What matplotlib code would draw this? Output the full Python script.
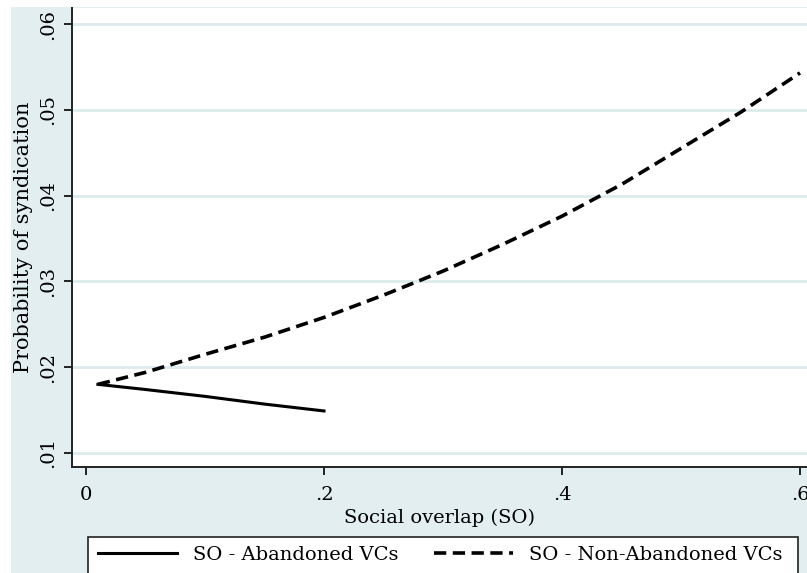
import matplotlib
matplotlib.use("Agg")
import matplotlib.pyplot as plt
from matplotlib.patches import Rectangle
from matplotlib.lines import Line2D

# values
so_abandoned = [0.01, 0.05, 0.10, 0.15, 0.20]
p_abandoned = [0.0180, 0.0174, 0.0166, 0.0157, 0.0149]

so_non_abandoned = [0.01, 0.05, 0.10, 0.15, 0.20, 0.25, 0.30, 0.35,
                    0.40, 0.45, 0.50, 0.55, 0.60]
p_non_abandoned = [0.0180, 0.0194, 0.0215, 0.0235, 0.0258, 0.0284, 0.0312,
                   0.0343, 0.0376, 0.0413, 0.0455, 0.0497, 0.0543]

x_ticks = [0, 0.2, 0.4, 0.6]
x_tick_labels = ["0", ".2", ".4", ".6"]
y_ticks = [0.01, 0.02, 0.03, 0.04, 0.05, 0.06]
y_tick_labels = [".01", ".02", ".03", ".04", ".05", ".06"]

BG = "#e2eef0"
GRID = "#dcebee"
W, H = 807, 573
DASH = (0, (3.4, 1.8))

plt.rcParams["font.family"] = ["DejaVu Serif"]

fig = plt.figure(figsize=(W / 100, H / 100), dpi=100, facecolor=BG)

# white strips from the crop of the original figure
fig.patches.append(Rectangle((0, 0), 11 / W, 1, transform=fig.transFigure,
                             facecolor="white", edgecolor="none", zorder=0))
fig.patches.append(Rectangle((0, 1 - 7 / H), 1, 7 / H, transform=fig.transFigure,
                             facecolor="white", edgecolor="none", zorder=0))

ax = fig.add_axes([72 / W, 1 - 467 / H, (W - 72) / W, (467 - 8) / H])
ax.set_facecolor("white")

ax.plot(so_abandoned, p_abandoned, color="black", lw=2.2, ls="-", zorder=3)
ax.plot(so_non_abandoned, p_non_abandoned, color="black", lw=2.6,
        ls=DASH, zorder=3)

ax.set_xlim(-14 / 1190, 0.6 + 7 / 1190)
ax.set_ylim(0.01 - 14 / 8580, 0.06 + 16 / 8580)

ax.set_xticks(x_ticks)
ax.set_xticklabels(x_tick_labels)
ax.set_yticks(y_ticks)
ax.set_yticklabels(y_tick_labels, rotation=90, va="center")

ax.yaxis.grid(True, color=GRID, lw=2)
ax.set_axisbelow(True)

for s in ["top", "right"]:
    ax.spines[s].set_visible(False)
for s in ["left", "bottom"]:
    ax.spines[s].set_linewidth(1.4)
    ax.spines[s].set_color("#222222")

ax.tick_params(axis="both", direction="out", length=6, width=1.4,
               labelsize=14, color="#222222")
ax.tick_params(axis="y", pad=5)
ax.tick_params(axis="x", pad=8)

ax.set_xlabel("Social overlap (SO)", fontsize=14, labelpad=3)
ax.set_ylabel("Probability of syndication", fontsize=15, labelpad=4)

# legend box (bottom is cut off in the reference)
fig.patches.append(Rectangle((88 / W, -0.05), (798 - 88) / W, 0.05 + (H - 537) / H,
                             transform=fig.transFigure, facecolor="white",
                             edgecolor="#222222", lw=1.2, zorder=1))
handles = [Line2D([], [], color="black", lw=2.2, ls="-"),
           Line2D([], [], color="black", lw=2.6, ls=DASH)]
fig.legend(handles, ["SO - Abandoned VCs", "SO - Non-Abandoned VCs"],
           loc="center", bbox_to_anchor=(440 / W, 1 - 555 / H), ncol=2,
           frameon=False, fontsize=14, handlelength=4.1, columnspacing=1.8,
           handletextpad=0.8)

fig.savefig("out.png", dpi=100, facecolor=BG)
